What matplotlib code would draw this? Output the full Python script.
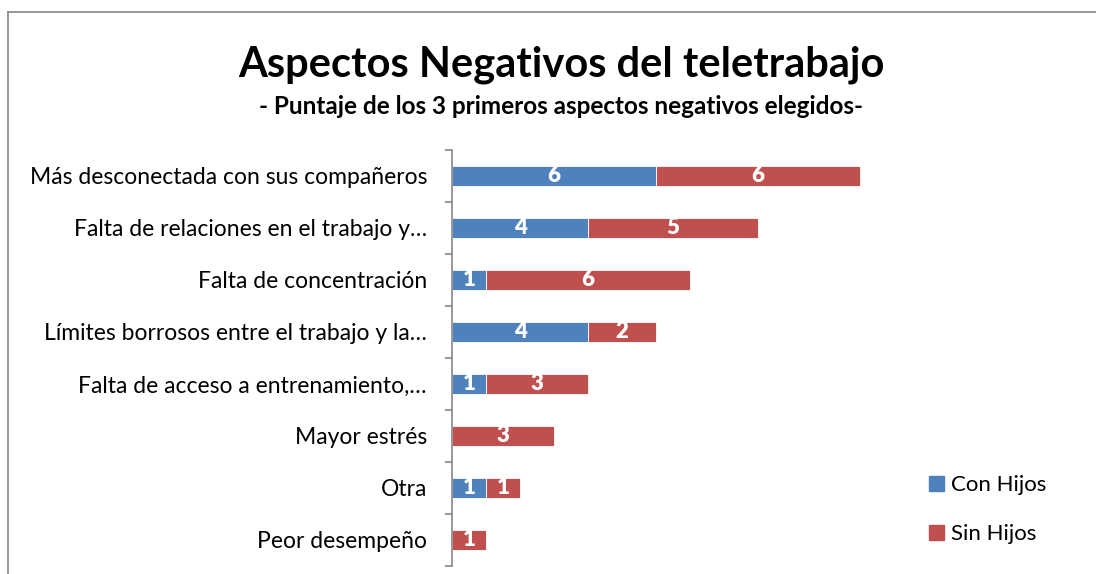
import matplotlib.pyplot as plt
import numpy as np
from matplotlib.patches import Patch
from matplotlib.lines import Line2D

plt.rcParams['font.family'] = ['Lato', 'DejaVu Sans']

categorias = ['Más desconectada con sus compañeros',
              'Falta de relaciones en el trabajo y…',
              'Falta de concentración',
              'Límites borrosos entre el trabajo y la…',
              'Falta de acceso a entrenamiento,…',
              'Mayor estrés',
              'Otra',
              'Peor desempeño']
con_hijos = [6, 4, 1, 4, 1, 0, 1, 0]
sin_hijos = [6, 5, 6, 2, 3, 3, 1, 1]

azul = '#4f81bd'
rojo = '#c0504d'

fig = plt.figure(figsize=(10.96, 5.74), dpi=100)
ax = fig.add_axes([452/1096, 1-566/574, (928-452)/1096, (566-150)/574])

y = np.arange(len(categorias))
ax.barh(y, con_hijos, height=0.38, color=azul, edgecolor='white', linewidth=0.6)
ax.barh(y, sin_hijos, left=con_hijos, height=0.38, color=rojo, edgecolor='white', linewidth=0.6)

for i in range(len(categorias)):
    if con_hijos[i] > 0:
        ax.text(con_hijos[i]/2, y[i], str(con_hijos[i]), ha='center', va='center',
                color='white', fontsize=16, fontweight='heavy')
    if sin_hijos[i] > 0:
        ax.text(con_hijos[i] + sin_hijos[i]/2, y[i], str(sin_hijos[i]), ha='center', va='center',
                color='white', fontsize=16, fontweight='heavy')

ax.set_xlim(0, 14)
ax.set_ylim(len(categorias)-0.5, -0.5)
ax.set_yticks(y)
ax.set_yticklabels(categorias, fontsize=16.5)
ax.tick_params(axis='y', which='major', length=0, pad=18)
ax.set_yticks(np.arange(-0.5, len(categorias)), minor=True)
ax.tick_params(axis='y', which='minor', length=5, color='#868686', width=1.2)
ax.set_xticks([])
for s in ['top', 'right', 'bottom']:
    ax.spines[s].set_visible(False)
ax.spines['left'].set_color('#868686')
ax.spines['left'].set_linewidth(1.2)

fig.text(0.512, 0.887, 'Aspectos Negativos del teletrabajo', ha='center', va='center',
         fontsize=30, fontweight='bold')
fig.text(0.512, 0.815, '- Puntaje de los 3 primeros aspectos negativos elegidos-', ha='center',
         va='center', fontsize=17.5, fontweight='bold')

handles = [Patch(color=azul, label='Con Hijos'), Patch(color=rojo, label='Sin Hijos')]
fig.legend(handles=handles, loc='center left', bbox_to_anchor=(0.829, 0.112), frameon=False,
           fontsize=16, handlelength=0.7, handleheight=0.7, handletextpad=0.3, labelspacing=1.3)

# marco
fig.add_artist(Line2D([8/1096, 1], [1-12/574, 1-12/574], color='#888888', lw=1.2,
                      transform=fig.transFigure))
fig.add_artist(Line2D([8/1096, 8/1096], [0, 1-12/574], color='#888888', lw=1.2,
                      transform=fig.transFigure))

fig.savefig('out.png', dpi=100)
